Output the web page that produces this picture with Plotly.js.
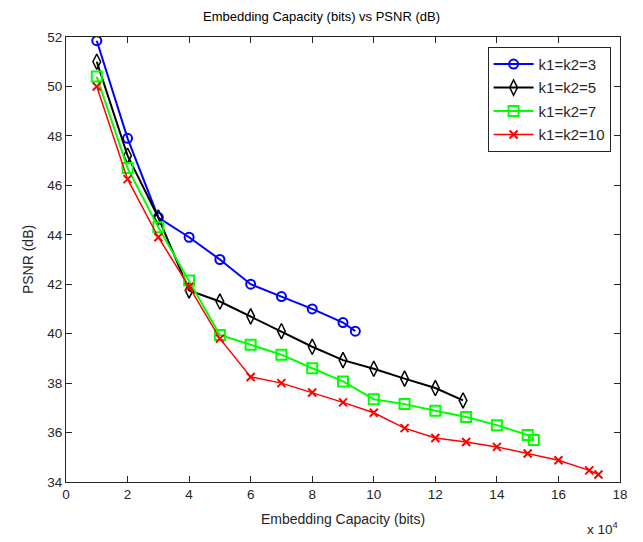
<!DOCTYPE html>
<html>
<head>
<meta charset="utf-8">
<script src="https://cdn.plot.ly/plotly-3.0.1.min.js"></script>
<style>html,body{margin:0;padding:0;background:#fff;}#chart{width:643px;height:542px;}</style>
</head>
<body>
<div id="chart"></div>
<script>
// Embedding capacity in bits
const capK3 = [10000, 20000, 30000, 40000, 50000, 60000, 70000, 80000, 90000, 94000];
const psnrK3 = [51.85, 47.9, 44.7, 43.9, 43.0, 42.0, 41.5, 41.0, 40.45, 40.1];

const capK5 = [10000, 20000, 30000, 40000, 50000, 60000, 70000, 80000, 90000, 100000, 110000, 120000, 129000];
const psnrK5 = [51.0, 47.2, 44.7, 41.75, 41.3, 40.7, 40.1, 39.47, 38.93, 38.58, 38.18, 37.8, 37.3];

const capK7 = [10000, 20000, 30000, 40000, 50000, 60000, 70000, 80000, 90000, 100000, 110000, 120000, 130000, 140000, 150000, 152000];
const psnrK7 = [50.4, 46.7, 44.3, 42.15, 39.95, 39.55, 39.15, 38.6, 38.07, 37.35, 37.15, 36.88, 36.63, 36.3, 35.9, 35.7];

const capK10 = [10000, 20000, 30000, 40000, 50000, 60000, 70000, 80000, 90000, 100000, 110000, 120000, 130000, 140000, 150000, 160000, 170000, 173000];
const psnrK10 = [50.0, 46.25, 43.9, 41.9, 39.8, 38.25, 38.0, 37.62, 37.22, 36.8, 36.18, 35.78, 35.62, 35.42, 35.15, 34.88, 34.47, 34.3];

const xTickVals = [0, 20000, 40000, 60000, 80000, 100000, 120000, 140000, 160000, 180000];
const xTickText = ['0', '2', '4', '6', '8', '10', '12', '14', '16', '18'];
const yTickVals = [34, 36, 38, 40, 42, 44, 46, 48, 50, 52];

const seriesNames = ['k1=k2=3', 'k1=k2=5', 'k1=k2=7', 'k1=k2=10'];

const fontFam = 'Liberation Sans, Arial, sans-serif';

const traces = [
  {x: capK3, y: psnrK3, name: seriesNames[0], legendgroup: 'g1', mode: 'lines+markers',
   line: {color: '#0000ff', width: 2},
   marker: {symbol: 'circle-open', size: 9, color: '#0000ff', line: {width: 2, color: '#0000ff'}}},
  {x: capK5, y: psnrK5, name: seriesNames[1], legendgroup: 'g2', mode: 'lines+markers',
   line: {color: '#000000', width: 2},
   marker: {symbol: 'diamond-tall-open', size: 11, color: '#000000', line: {width: 1.5, color: '#000000'}}},
  {x: capK7, y: psnrK7, name: seriesNames[2], legendgroup: 'g3', mode: 'lines+markers',
   line: {color: '#00ff00', width: 2},
   marker: {symbol: 'square-open', size: 10, color: '#00ff00', line: {width: 2, color: '#00ff00'}}},
  {x: capK10, y: psnrK10, name: seriesNames[3], legendgroup: 'g4', mode: 'lines+markers',
   line: {color: '#ff0000', width: 1.5},
   marker: {symbol: 'x-thin-open', size: 8, color: '#ff0000', line: {width: 2, color: '#ff0000'}}}
];

const layout = {
  width: 643, height: 542,
  margin: {l: 66, r: 23, t: 37, b: 60},
  paper_bgcolor: '#ffffff', plot_bgcolor: '#ffffff',
  font: {family: fontFam, size: 12, color: '#262626'},
  title: {text: 'Embedding Capacity (bits) vs PSNR (dB)', x: 0.5, xanchor: 'center', y: 0.978, yanchor: 'top', font: {size: 13, color: '#000000', family: fontFam}},
  xaxis: {
    range: [0, 180000], tickvals: xTickVals, ticktext: xTickText,
    ticks: 'inside', ticklen: 6, tickcolor: '#262626',
    showline: true, linecolor: '#262626', linewidth: 1, mirror: 'ticks',
    showgrid: false, zeroline: false,
    tickfont: {size: 13.5, family: fontFam, color: '#262626'},
    title: {text: 'Embedding Capacity (bits)', standoff: 12, font: {size: 14, family: fontFam, color: '#262626'}}
  },
  yaxis: {
    range: [34, 52], tickvals: yTickVals,
    ticks: 'inside', ticklen: 6, tickcolor: '#262626',
    showline: true, linecolor: '#262626', linewidth: 1, mirror: 'ticks',
    showgrid: false, zeroline: false,
    tickfont: {size: 13.5, family: fontFam, color: '#262626'},
    title: {text: 'PSNR (dB)', standoff: 10, font: {size: 14, family: fontFam, color: '#262626'}}
  },
  legend: {
    x: 0.983, xanchor: 'right', y: 0.978, yanchor: 'top',
    bgcolor: '#ffffff', bordercolor: '#262626', borderwidth: 1,
    font: {size: 15, family: fontFam, color: '#262626'},
    tracegroupgap: 1, itemwidth: 40, traceorder: 'grouped'
  },
  annotations: [
    {text: 'x 10<sup>4</sup>', xref: 'paper', yref: 'paper', x: 1.0, y: -0.078, xanchor: 'right', yanchor: 'top', showarrow: false, font: {size: 13.5, family: fontFam, color: '#262626'}}
  ],
  showlegend: true
};

Plotly.newPlot('chart', traces, layout, {displayModeBar: false, staticPlot: true});
</script>
</body>
</html>
